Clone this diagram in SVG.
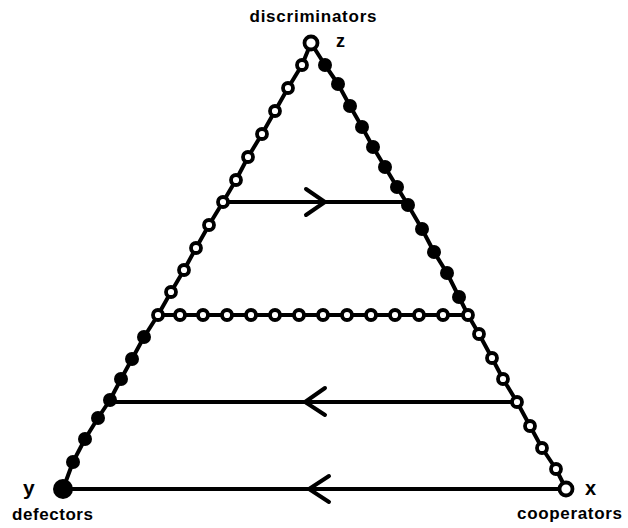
<svg xmlns="http://www.w3.org/2000/svg" width="628" height="528" viewBox="0 0 628 528">
<style>
.edge{fill:none;stroke:#000;stroke-width:4;stroke-linejoin:round}
.flow{fill:none;stroke:#000;stroke-width:3.8}
.chev{fill:none;stroke:#000;stroke-width:4;stroke-linecap:round;stroke-linejoin:miter}
.o{fill:#fff;stroke:#000;stroke-width:3.8}
.f{fill:#000;stroke:none}
.lbl{font-family:"Liberation Sans",Arial,sans-serif;font-weight:bold;fill:#000}
</style>
<rect width="628" height="528" fill="#fff"/>
<g id="connectors">
  <line class="flow" x1="223" y1="202" x2="408" y2="202"/>
  <polyline class="chev" points="306,189 325,202 306,215"/>
  <line class="flow" x1="110" y1="402" x2="517" y2="402"/>
  <polyline class="chev" points="325,388 305,402 325,415"/>
  <line class="flow" x1="63" y1="489" x2="566" y2="489"/>
  <polyline class="chev" points="329,476 309,489 329,502"/>
  <polyline class="edge" points="311,43 302,65 288,88 275,111 262,134 248,157 236,180 223,202 209,225 196,248 184,270 171,292 158,315 144,337 132,359 121,379 110,400 98,418 85,439 73,462 63,489"/>
  <polyline class="edge" points="311,43 325,65 338,84 350,106 362,127 373,147 385,167 397,187 408,205 422,229 434,252 447,273 459,297 468,315 479,334 492,358 503,379 517,402 530,426 542,448 556,469 566,489"/>
  <line class="edge" x1="158" y1="315" x2="468" y2="315"/>
</g>
<g id="left-orbit">
  <circle class="o" cx="302" cy="65" r="5"/>
  <circle class="o" cx="288" cy="88" r="5"/>
  <circle class="o" cx="275" cy="111" r="5"/>
  <circle class="o" cx="262" cy="134" r="5"/>
  <circle class="o" cx="248" cy="157" r="5"/>
  <circle class="o" cx="236" cy="180" r="5"/>
  <circle class="o" cx="223" cy="202" r="5"/>
  <circle class="o" cx="209" cy="225" r="5"/>
  <circle class="o" cx="196" cy="248" r="5"/>
  <circle class="o" cx="184" cy="270" r="5"/>
  <circle class="o" cx="171" cy="292" r="5"/>
  <circle class="f" cx="144" cy="337" r="7"/>
  <circle class="f" cx="132" cy="359" r="7"/>
  <circle class="f" cx="121" cy="379" r="7"/>
  <circle class="f" cx="110" cy="400" r="7"/>
  <circle class="f" cx="98" cy="418" r="7"/>
  <circle class="f" cx="85" cy="439" r="7"/>
  <circle class="f" cx="73" cy="462" r="7"/>
</g>
<g id="right-orbit">
  <circle class="f" cx="325" cy="65" r="7"/>
  <circle class="f" cx="338" cy="84" r="7"/>
  <circle class="f" cx="350" cy="106" r="7"/>
  <circle class="f" cx="362" cy="127" r="7"/>
  <circle class="f" cx="373" cy="147" r="7"/>
  <circle class="f" cx="385" cy="167" r="7"/>
  <circle class="f" cx="397" cy="187" r="7"/>
  <circle class="f" cx="408" cy="205" r="7"/>
  <circle class="f" cx="422" cy="229" r="7"/>
  <circle class="f" cx="434" cy="252" r="7"/>
  <circle class="f" cx="447" cy="273" r="7"/>
  <circle class="f" cx="459" cy="297" r="7"/>
  <circle class="o" cx="479" cy="334" r="5"/>
  <circle class="o" cx="492" cy="358" r="5"/>
  <circle class="o" cx="503" cy="379" r="5"/>
  <circle class="o" cx="517" cy="402" r="5"/>
  <circle class="o" cx="530" cy="426" r="5"/>
  <circle class="o" cx="542" cy="448" r="5"/>
  <circle class="o" cx="556" cy="469" r="5"/>
</g>
<g id="middle-orbit">
  <circle class="o" cx="158" cy="315" r="5"/>
  <circle class="o" cx="180" cy="315" r="5"/>
  <circle class="o" cx="203" cy="315" r="5"/>
  <circle class="o" cx="227" cy="315" r="5"/>
  <circle class="o" cx="251" cy="315" r="5"/>
  <circle class="o" cx="275" cy="315" r="5"/>
  <circle class="o" cx="299" cy="315" r="5"/>
  <circle class="o" cx="323" cy="315" r="5"/>
  <circle class="o" cx="347" cy="315" r="5"/>
  <circle class="o" cx="371" cy="315" r="5"/>
  <circle class="o" cx="395" cy="315" r="5"/>
  <circle class="o" cx="419" cy="315" r="5"/>
  <circle class="o" cx="443" cy="315" r="5"/>
  <circle class="o" cx="468" cy="315" r="5"/>
</g>
<g id="node-z">
  <circle class="o" cx="311" cy="43" r="6.5"/>
  <text class="lbl" x="313" y="22" font-size="17" text-anchor="middle" textLength="127" lengthAdjust="spacing">discriminators</text>
  <text class="lbl" x="336" y="47" font-size="18">z</text>
</g>
<g id="node-y">
  <circle class="f" cx="63" cy="489" r="10"/>
  <text class="lbl" x="23" y="495" font-size="21">y</text>
  <text class="lbl" x="12" y="520" font-size="17" textLength="81" lengthAdjust="spacing">defectors</text>
</g>
<g id="node-x">
  <circle class="o" cx="566" cy="489" r="6.5"/>
  <text class="lbl" x="585" y="495" font-size="20">x</text>
  <text class="lbl" x="517" y="519" font-size="17" textLength="105" lengthAdjust="spacing">cooperators</text>
</g>
</svg>
